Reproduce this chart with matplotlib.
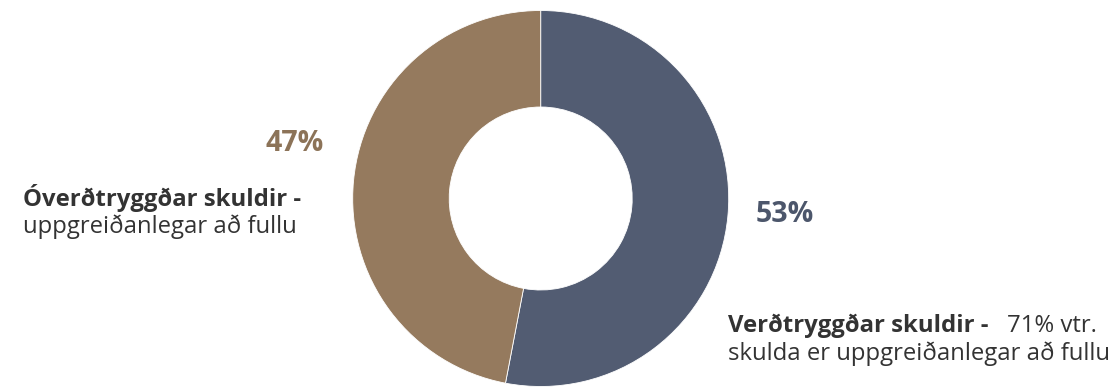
import matplotlib
matplotlib.use("Agg")
import matplotlib.pyplot as plt

categories = ["Verðtryggðar skuldir", "Óverðtryggðar skuldir"]
values = [53, 47]
pct_labels = ["53%", "47%"]
colors = ["#525c72", "#957a5e"]

W, H = 1114, 388
fig = plt.figure(figsize=(W / 100, H / 100), dpi=100)
ax = fig.add_axes([0, 0, 1, 1])

cx, cy, R = 540.7, H - 198.5, 188
ax.pie(values, colors=colors, startangle=90, counterclock=False,
       center=(cx, cy), radius=R, frame=True,
       wedgeprops=dict(width=R - 91.5, edgecolor="white", linewidth=0.6))
ax.set_xlim(0, W)
ax.set_ylim(0, H)
ax.set_aspect("equal")
ax.axis("off")

font = "Open Sans"
ax.text(756, H - 222, pct_labels[0], fontsize=20.5, fontweight="bold",
        color="#4c566b", family=font, va="baseline", ha="left")
ax.text(266, H - 151, pct_labels[1], fontsize=20.5, fontweight="bold",
        color="#8c7358", family=font, va="baseline", ha="left")

dark = "#333333"
fs = 17.2
ax.text(23, H - 206, "Óverðtryggðar skuldir -", fontsize=fs, fontweight="bold",
        color=dark, family=font, va="baseline")
ax.text(23, H - 233, "uppgreiðanlegar að fullu", fontsize=fs,
        color=dark, family=font, va="baseline")

ax.text(728, H - 332, "Verðtryggðar skuldir -", fontsize=fs, fontweight="bold",
        color=dark, family=font, va="baseline")
ax.text(1007, H - 332, "71% vtr.", fontsize=fs,
        color=dark, family=font, va="baseline")
ax.text(728, H - 360, "skulda er uppgreiðanlegar að fullu", fontsize=fs,
        color=dark, family=font, va="baseline")

fig.savefig("out.png", dpi=100, facecolor="white")
